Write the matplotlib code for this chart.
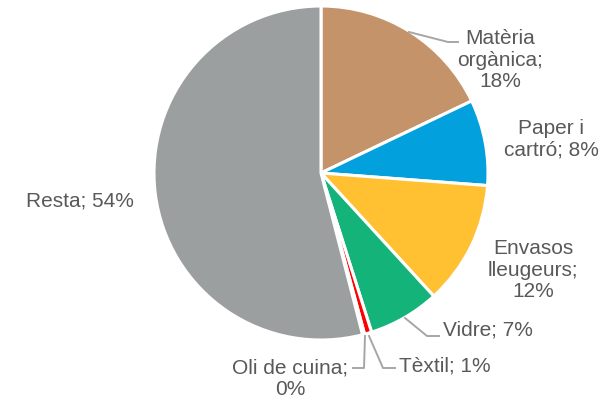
import matplotlib
matplotlib.use("Agg")
import matplotlib.pyplot as plt

CATEGORIES = ["Matèria orgànica", "Paper i cartró", "Envasos lleugeurs", "Vidre",
              "Tèxtil", "Oli de cuina", "Resta"]
VALUES = [17.9, 8.3, 12.0, 6.9, 0.7, 0.2, 54.0]
LABELS = ["Matèria\norgànica;\n18%", "Paper i\ncartró; 8%", "Envasos\nlleugeurs;\n12%",
          "Vidre; 7%", "Tèxtil; 1%", "Oli de cuina;\n0%", "Resta; 54%"]
COLORS = ["#C4936A", "#03A0DE", "#FFC132", "#13B37A", "#FF0000", "#8A6B2E", "#9B9FA0"]

W, H = 612, 405
CX, CY, R = 321, 173, 167

plt.rcParams["font.family"] = ["Liberation Sans", "DejaVu Sans"]
fig = plt.figure(figsize=(W / 100, H / 100), dpi=100)
ax = fig.add_axes([(CX - R) / W, (H - CY - R) / H, 2 * R / W, 2 * R / H])
ax.pie(VALUES, colors=COLORS, startangle=90, counterclock=False, radius=1,
       wedgeprops=dict(edgecolor="white", linewidth=2.2))
ax.set_xlim(-1, 1); ax.set_ylim(-1, 1); ax.set_aspect("equal")
ax.axis("off")


def d(px, py):
    # pixel (from top-left) -> data coords
    return ((px - CX) / R, (CY - py) / R)


tc = "#595959"; lc = "#A6A6A6"; fs = 15

# text positions and leader lines (pixels)
ax.text(*d(500, 60), LABELS[0], ha="center", va="center", color=tc, fontsize=fs, linespacing=1.15)
ax.plot(*zip(d(409, 32), d(448, 42), d(458, 42)), color=lc, lw=1.4, clip_on=False)
ax.text(*d(551, 139), LABELS[1], ha="center", va="center", color=tc, fontsize=fs, linespacing=1.15)
ax.text(*d(533, 270), LABELS[2], ha="center", va="center", color=tc, fontsize=fs, linespacing=1.15)
ax.text(*d(443, 330), LABELS[3], ha="left", va="center", color=tc, fontsize=fs)
ax.plot(*zip(d(405, 318), d(427, 336), d(439, 336)), color=lc, lw=1.4, clip_on=False)
ax.text(*d(399, 366), LABELS[4], ha="left", va="center", color=tc, fontsize=fs)
ax.plot(*zip(d(369, 336), d(383, 368), d(395, 368)), color=lc, lw=1.4, clip_on=False)
ax.text(*d(290, 379), LABELS[5], ha="center", va="center", color=tc, fontsize=fs, linespacing=1.15)
ax.plot(*zip(d(365, 336), d(364, 368), d(353, 368)), color=lc, lw=1.4, clip_on=False)
ax.text(*d(134, 201), LABELS[6], ha="right", va="center", color=tc, fontsize=fs)

fig.savefig("out.png", dpi=100)
